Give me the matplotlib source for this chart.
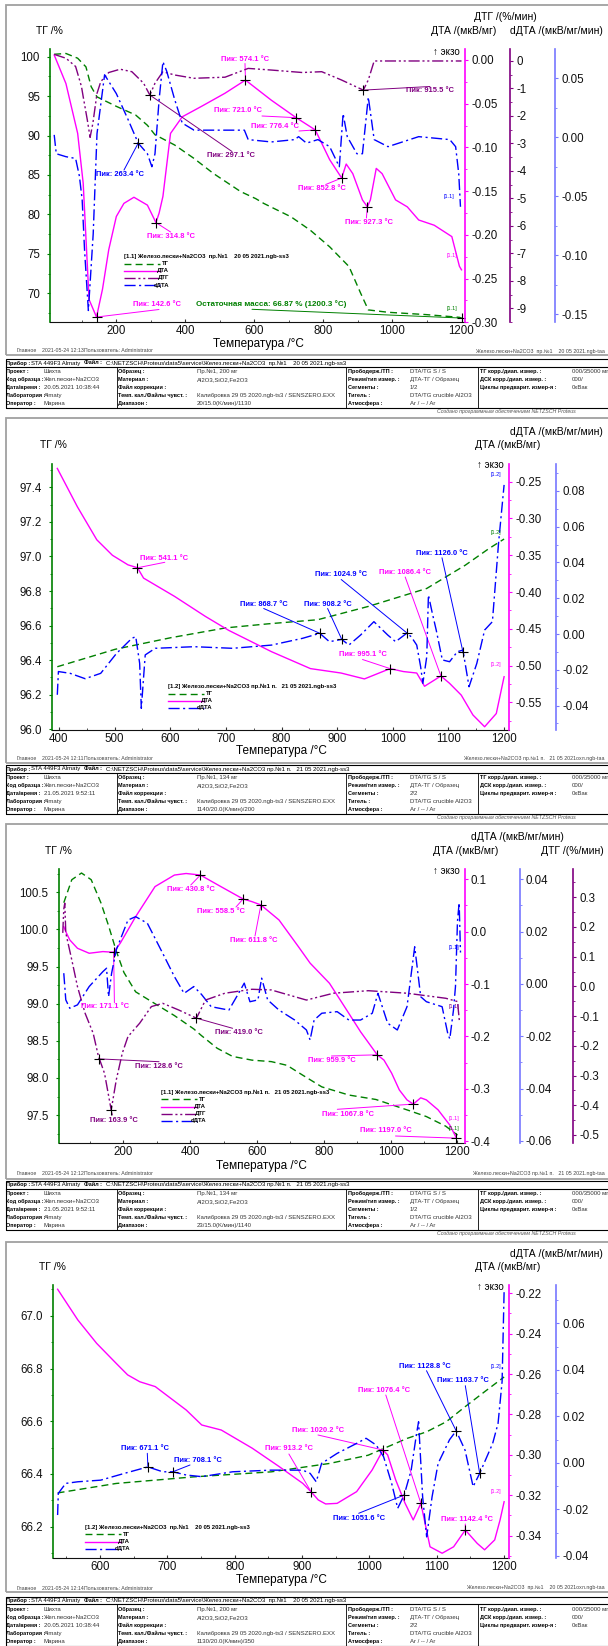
import matplotlib
matplotlib.use("Agg")
import matplotlib.pyplot as plt
from matplotlib.lines import Line2D
from matplotlib.patches import Rectangle
from matplotlib.ticker import AutoMinorLocator

plt.rcParams['font.family'] = ['Liberation Sans', 'DejaVu Sans']
plt.rcParams['axes.unicode_minus'] = False

W, H = 608, 1646
GREEN, MAG, PURP, BLUE = '#008000', '#ff00ff', '#800080', '#0000ff'
BLUE_AX = '#7777ff'
COL = {'tg': GREEN, 'dta': MAG, 'dtg': PURP, 'ddta': BLUE}
LS = {'tg': (0, (5, 3)), 'dta': '-', 'dtg': (0, (8, 2, 1.5, 2, 1.5, 2)),
      'ddta': (0, (8, 2.5, 1.5, 2.5))}
NAMES = {'tg': 'ТГ', 'dta': 'ДТА', 'dtg': 'ДТГ', 'ddta': 'dДТА'}
TICK_FS = 8.3

# ---------------- panel 1 : 20 05 2021, heating ----------------
p1_tg_t = [20, 54, 88, 112, 127, 144, 200, 256, 290, 312, 369, 425, 481, 560, 604, 627,
           706, 762, 818, 874, 908, 930, 987, 1099, 1194, 1200]
p1_tg = [100.3, 100.4, 99.8, 98.7, 96.2, 94.9, 93.7, 92.6, 91.3, 90.1, 88.8, 87.1, 85.2,
         82.9, 82.0, 81.4, 79.7, 78.0, 75.9, 73.4, 70.0, 67.9, 67.6, 67.3, 66.96, 66.87]
p1_dta_t = [20, 54, 88, 104, 121, 142.6, 160, 178, 200, 222, 251, 290, 314.8, 324, 335, 357,
            391, 447, 515, 574.1, 649, 721.0, 776.4, 818, 852.8, 866, 885, 913, 927.3, 936,
            953, 970, 1009, 1043, 1076, 1121, 1172, 1194, 1200]
p1_dta = [0.0057, -0.027, -0.084, -0.141, -0.274, -0.294, -0.262, -0.217, -0.179, -0.164,
          -0.157, -0.166, -0.186, -0.175, -0.156, -0.084, -0.065, -0.053, -0.038, -0.023,
          -0.046, -0.066, -0.080, -0.114, -0.135, -0.119, -0.130, -0.160, -0.168, -0.160,
          -0.124, -0.130, -0.160, -0.168, -0.183, -0.189, -0.202, -0.236, -0.240]
p1_dtg_t = [20, 54, 82, 99, 104, 116, 124, 132, 144, 155, 178, 211, 245, 279, 297.1, 312,
            335, 369, 425, 515, 582, 649, 739, 795, 852, 915.5, 930, 947, 1000, 1100, 1200]
p1_dtg = [0.24, 0.1, -0.2, -0.93, -1.3, -2.15, -2.78, -2.27, -1.18, -0.75, -0.42, -0.30,
          -0.39, -0.81, -1.24, -0.81, -0.39, -0.51, -0.63, -0.59, -0.27, -0.33, -0.42,
          -0.39, -0.69, -1.06, -0.69, 0.0, 0.0, 0.0, 0.0]
p1_ddta_t = [20, 26, 54, 82, 93, 101, 108, 119, 133, 144, 166, 200, 234, 263.4, 290, 303,
             312, 324, 335, 346, 369, 391, 425, 481, 571, 582, 649, 717, 728, 751, 784, 818,
             846, 857, 869, 897, 913, 930, 947, 987, 1076, 1166, 1183, 1192, 1197]
p1_ddta = [0.002, -0.014, -0.0165, -0.018, -0.033, -0.053, -0.096, -0.147, -0.082, 0.003,
           0.053, 0.037, 0.015, -0.005, -0.014, -0.025, -0.014, 0.032, 0.064, 0.056, 0.032,
           0.012, 0.006, 0.006, 0.006, -0.002, -0.004, -0.002, 0.0005, -0.005, -0.002,
           -0.008, -0.025, 0.020, 0.0005, -0.014, -0.014, 0.034, -0.002, -0.008, 0.0005,
           -0.002, -0.008, -0.031, -0.059]

# ---------------- panel 2 : 21 05 2021, cooling ----------------
p2_tg_t = [397, 501, 601, 700, 775, 865, 956, 1061, 1130, 1172, 1200]
p2_tg = [96.362, 96.463, 96.530, 96.587, 96.61, 96.634, 96.711, 96.815, 96.949, 97.044, 97.101]
p2_dta_t = [397, 433, 468, 496, 524, 541.1, 552, 608, 663, 705, 782, 852, 907, 949, 995.1,
            1019, 1043, 1057, 1086.4, 1102, 1123, 1144, 1165, 1186, 1200]
p2_dta = [-0.232, -0.284, -0.329, -0.350, -0.363, -0.367, -0.381, -0.406, -0.433, -0.452,
          -0.481, -0.504, -0.510, -0.518, -0.504, -0.508, -0.510, -0.528, -0.514, -0.524,
          -0.540, -0.567, -0.583, -0.565, -0.515]
p2_ddta_t = [397, 399, 420, 447, 475, 503, 531, 538, 545, 548, 555, 573, 643, 712, 782, 838,
             868.7, 886, 908.2, 921, 942, 966, 991, 1005, 1024.9, 1033, 1043, 1050, 1054,
             1061, 1064, 1071, 1078, 1089, 1102, 1116, 1126.0, 1137, 1151, 1165, 1179, 1190,
             1200]
p2_ddta = [-0.034, -0.021, -0.022, -0.025, -0.022, -0.011, -0.0024, -0.0015, -0.0164,
           -0.0416, -0.0117, -0.008, -0.0071, -0.008, -0.0062, -0.0024, 0.0004, -0.0043,
           -0.003, -0.0062, -0.0006, 0.0069, -0.0006, -0.0043, 0.0004, -0.0015, -0.0062,
           -0.0183, -0.0276, -0.0127, 0.0218, 0.0116, 0.0022, -0.0145, -0.0155, -0.0099,
           -0.0090, -0.0295, -0.0164, 0.0022, 0.0069, 0.0507, 0.0834]

# ---------------- panel 3 : 21 05 2021, heating ----------------
p3_tg_t = [22, 46, 75, 104, 133, 156, 179, 202, 237, 295, 353, 411, 434, 481, 527, 585, 643,
           690, 736, 794, 875, 956, 1049, 1107, 1165, 1200]
p3_tg = [100.36, 100.67, 100.76, 100.67, 100.36, 100.05, 99.71, 99.42, 99.16, 99.0, 98.84,
         98.66, 98.57, 98.40, 98.29, 98.24, 98.22, 98.17, 98.04, 97.88, 97.77, 97.71, 97.57,
         97.48, 97.35, 97.23]
p3_dta_t = [22, 28, 40, 63, 98, 139, 171.1, 191, 237, 295, 353, 388, 430.8, 492, 558.5, 585,
            611.8, 666, 724, 759, 817, 875, 910, 959.9, 980, 1003, 1026, 1049, 1067.8, 1090,
            1107, 1142, 1177, 1197.0]
p3_dta = [0.0095, 0.0, -0.0158, -0.0317, -0.0412, -0.038, -0.0393, -0.022, 0.0286, 0.086,
          0.108, 0.111, 0.108, 0.086, 0.0624, 0.0573, 0.051, 0.0223, -0.0286, -0.060,
          -0.0985, -0.156, -0.191, -0.235, -0.245, -0.270, -0.302, -0.321, -0.329, -0.317,
          -0.321, -0.340, -0.369, -0.394]
p3_dtg_t = [19, 22, 25, 28, 46, 63, 86, 110, 127, 128.6, 144, 163.9, 179, 197, 214, 249, 284,
            318, 365, 419.0, 446, 504, 585, 643, 748, 829, 933, 1049, 1165, 1200, 1206]
p3_dtg = [0.18, 0.26, 0.28, 0.18, 0.089, -0.001, -0.091, -0.158, -0.242, -0.244, -0.293,
          -0.416, -0.315, -0.225, -0.169, -0.124, -0.068, -0.057, -0.079, -0.107, -0.046,
          -0.023, -0.0097, -0.012, -0.046, -0.023, -0.0145, -0.023, -0.040, -0.051, -0.12]
p3_ddta_t = [22, 28, 40, 63, 98, 139, 150, 156, 165, 179, 214, 237, 272, 318, 353, 382, 411,
             434, 463, 516, 545, 562, 579, 603, 614, 632, 666, 713, 748, 759, 771, 794, 840,
             875, 910, 945, 962, 991, 1020, 1049, 1072, 1090, 1107, 1154, 1171, 1177, 1188,
             1194, 1200, 1205, 1209]
p3_ddta = [0.0041, -0.0061, -0.0093, -0.008, -0.001, 0.0047, 0.006, -0.0049, 0.004, 0.013,
           0.0244, 0.0257, 0.0232, 0.0117, 0.0028, -0.0036, -0.001, -0.004, -0.0087, -0.010,
           -0.0036, 0.0003, -0.0068, -0.0061, 0.0022, -0.0061, -0.010, -0.0138, -0.0176,
           -0.0214, -0.0138, -0.0112, -0.0106, -0.0138, -0.0138, -0.0112, -0.0036, -0.015,
           -0.0176, -0.0087, 0.0142, -0.0049, -0.0068, -0.0087, -0.019, -0.021, -0.010,
           -0.001, 0.024, 0.031, 0.012]

# ---------------- panel 4 : 20 05 2021, cooling ----------------
p4_tg_t = [537, 624, 739, 854, 941, 998, 1056, 1085, 1114, 1142, 1171, 1200]
p4_tg = [66.328, 66.364, 66.389, 66.408, 66.440, 66.471, 66.535, 66.560, 66.598, 66.655,
         66.712, 66.768]
p4_dta_t = [537, 567, 595, 624, 641, 659, 682, 705, 728, 751, 780, 826, 866, 901, 913.2, 924,
            935, 952, 981, 1004, 1020.2, 1027, 1039, 1053, 1065, 1076.4, 1090, 1108, 1125,
            1142.4, 1160, 1171, 1186, 1194, 1200]
p4_dta = [-0.218, -0.2332, -0.2448, -0.2547, -0.2604, -0.2638, -0.2662, -0.272, -0.2778,
          -0.2852, -0.2877, -0.2967, -0.3058, -0.3141, -0.3182, -0.3223, -0.3243, -0.324,
          -0.3182, -0.3075, -0.2976, -0.30, -0.3124, -0.324, -0.3322, -0.324, -0.3455,
          -0.3487, -0.3455, -0.3372, -0.3438, -0.347, -0.3421, -0.3322, -0.3232]
p4_ddta_t = [537, 538, 549, 567, 601, 636, 671.1, 693, 708.1, 728, 751, 797, 854, 901, 912,
             921, 929, 952, 981, 995, 1010, 1021, 1033, 1042, 1051.6, 1062, 1070, 1073, 1079,
             1085, 1093, 1102, 1119, 1128.8, 1142, 1154, 1163.7, 1183, 1191, 1197, 1200]
p4_ddta = [-0.0224, -0.0131, -0.0088, -0.0081, -0.0074, -0.0045, -0.0017, -0.0038, -0.0038,
           -0.0052, -0.0059, -0.0038, -0.0031, -0.0031, -0.0045, -0.0081, -0.0002, 0.0041,
           0.0084, 0.0106, 0.0077, 0.0027, -0.0088, -0.0195, -0.0138, -0.0031, 0.0127, 0.0177,
           -0.0146, -0.0318, -0.0146, -0.0002, 0.010, 0.0138, 0.0055, -0.0102, -0.0045, 0.0084,
           0.017, 0.035, 0.074]

# ---------------- info tables ----------------
row_labels = [['Проект :', 'Код образца :', 'Дата/время :', 'Лаборатория :', 'Оператор :'],
              ['Образец :', 'Материал :', 'Файл коррекции :', 'Темп. кал./Файлы чувст. :', 'Диапазон :'],
              ['Прободерж./ТП :', 'Режим/тип измер. :', 'Сегменты :', 'Тигель :', 'Атмосфера :'],
              ['ТГ корр./диап. измер. :', 'ДСК корр./диап. измер. :', 'Циклы предварит. измер-я :', '', '']]
file_20 = r'C:\NETZSCH\Proteus\data5\service\Желез.пески+Na2CO3  пр.№1    20 05 2021.ngb-ss3'
file_21 = r'C:\NETZSCH\Proteus\data5\service\Желез.пески+Na2CO3 пр.№1 п.   21 05 2021.ngb-ss3'
sample = ['Пр.№1, 200 мг', 'Пр.№1, 134 мг', 'Пр.№1, 134 мг', 'Пр.№1, 200 мг']
dates = ['20.05.2021 10:38:44', '21.05.2021 9:52:11', '21.05.2021 9:52:11', '20.05.2021 10:38:44']
segments = ['1/2', '2/2', '1/2', '2/2']
ranges = ['20/15.0(K/мин)/1130', '1140/20.0(K/мин)/200', '23/15.0(K/мин)/1140', '1130/20.0(K/мин)/350']
files = [file_20, file_21, file_21, file_20]
printed = ['2021-05-24 12:13', '2021-05-24 12:11', '2021-05-24 12:12', '2021-05-24 12:14']
footer_right = ['Железо.пески+Na2CO3  пр.№1    20 05 2021.ngb-taa',
                'Железо.пески+Na2CO3 пр.№1 п.   21 05 2021охл.ngb-taa',
                'Железо.пески+Na2CO3 пр.№1 п.   21 05 2021.ngb-taa',
                'Железо.пески+Na2CO3  пр.№1    20 05 2021охл.ngb-taa']
legend_titles = ['[1.1] Железо.пески+Na2CO3  пр.№1    20 05 2021.ngb-ss3',
                 '[1.2] Железо.пески+Na2CO3 пр.№1 п.   21 05 2021.ngb-ss3',
                 '[1.1] Железо.пески+Na2CO3 пр.№1 п.   21 05 2021.ngb-ss3',
                 '[1.2] Железо.пески+Na2CO3  пр.№1    20 05 2021.ngb-ss3']

fig = plt.figure(figsize=(W / 100, H / 100), dpi=100)
fig.patch.set_facecolor('white')


def text(x, y, s, **kw):
    kw.setdefault('fontsize', 5)
    kw.setdefault('va', 'center')
    fig.text(x / W, 1 - y / H, s, **kw)


def hline(x0, x1, y, **kw):
    fig.add_artist(Line2D([x0 / W, x1 / W], [1 - y / H] * 2, **kw))


def vline(x, y0, y1, **kw):
    fig.add_artist(Line2D([x / W] * 2, [1 - y0 / H, 1 - y1 / H], **kw))


def base_axes(box, xlim, xticks, lim, ticks, fmt):
    l, t, r, b = box
    ax = fig.add_axes([l / W, 1 - b / H, (r - l) / W, (b - t) / H])
    ax.set_xlim(xlim)
    ax.set_ylim(lim)
    ax.patch.set_alpha(0)
    for s in ('top', 'right'):
        ax.spines[s].set_visible(False)
    ax.spines['left'].set_color(GREEN)
    ax.spines['left'].set_linewidth(1.2)
    ax.spines['bottom'].set_color('#111111')
    ax.spines['bottom'].set_linewidth(0.8)
    ax.set_xticks(xticks)
    ax.set_yticks(ticks)
    ax.set_yticklabels([fmt.format(v) for v in ticks])
    ax.xaxis.set_minor_locator(AutoMinorLocator(2))
    ax.yaxis.set_minor_locator(AutoMinorLocator(2))
    ax.tick_params(axis='x', which='both', direction='in', colors='#333333',
                   labelcolor='#111111', labelsize=TICK_FS, pad=2)
    ax.tick_params(axis='y', which='both', direction='out', colors=GREEN,
                   labelcolor='#111111', labelsize=TICK_FS, pad=5)
    ax.tick_params(which='major', length=2.5)
    ax.tick_params(which='minor', length=1.5)
    return ax


def side_axes(ax, pos, color, lim, ticks, fmt):
    t = ax.twinx()
    t.set_ylim(lim)
    for s in ('top', 'left', 'bottom'):
        t.spines[s].set_visible(False)
    t.spines['right'].set_position(('axes', pos))
    t.spines['right'].set_color(color)
    t.spines['right'].set_linewidth(1.2)
    t.set_yticks(ticks)
    t.set_yticklabels([fmt.format(v) for v in ticks])
    t.yaxis.set_minor_locator(AutoMinorLocator(2))
    t.tick_params(axis='y', which='both', direction='out', colors=color,
                  labelcolor='#111111', labelsize=TICK_FS, pad=2)
    t.tick_params(which='major', length=2.5)
    t.tick_params(which='minor', length=1.5)
    return t


def curve(a, key, t, v):
    a.plot(t, v, color=COL[key], ls=LS[key], lw=1.0)


def peak(a, T, v, label, color, txt, anchor):
    a.plot([T], [v], marker='+', color='k', ms=7, mew=0.8, zorder=6)
    a.annotate('', xy=(T, v), xytext=(anchor[0], H - anchor[1]), textcoords='figure pixels',
               arrowprops=dict(arrowstyle='-', color=color, lw=0.7, shrinkA=0, shrinkB=0))
    text(txt[0], txt[1], label, color=color, fontsize=5.4, fontweight='bold', ha='center')


def legend(x0, y0, title, keys):
    text(x0, y0, title, fontsize=4.3, fontweight='bold', ha='left')
    for i, k in enumerate(keys):
        y = y0 + 7.1 * (i + 1)
        hline(x0, x0 + 36, y, color=COL[k], ls=LS[k], lw=1.0)
        text(x0 + 45, y, NAMES[k], fontsize=4.3, fontweight='bold', ha='right')


def frame(top, bottom):
    fig.add_artist(Rectangle((5.8 / W, 1 - bottom / H), 1.0, (bottom - top) / H, fill=False,
                             ec='#a0a0a0', lw=1.3, transform=fig.transFigure))


def footer(i, y):
    text(16.5, y, 'Главное', fontsize=3.8, color='#444444')
    text(41.7, y, printed[i], fontsize=3.8, color='#444444')
    text(84, y, 'Пользователь: Administrator', fontsize=3.8, color='#444444')
    text(605, y, footer_right[i], fontsize=3.8, color='#444444', ha='right')


def table(i, t, credit=True):
    b = t + 49
    fig.add_artist(Rectangle((5.8 / W, 1 - b / H), 1.0, 49 / H, fill=False, ec='k', lw=0.8,
                             transform=fig.transFigure))
    hline(5.8, 608, t + 7.8, color='k', lw=0.8)
    for x in (116.7, 346, 478):
        vline(x, t + 7.8, b, color='k', lw=0.6)
    fl, fv = 4.0, 4.3
    text(6.5, t + 4, 'Прибор :', fontsize=fl, fontweight='bold')
    text(31, t + 4, 'STA 449F3 Almaty', fontsize=fv)
    text(84, t + 4, 'Файл :', fontsize=fl, fontweight='bold')
    text(106, t + 4, files[i], fontsize=fv)
    values = [['Шихта', 'Жел.пески+Na2CO3', dates[i], 'Almaty', 'Марина'],
              [sample[i], 'Al2O3,SiO2,Fe2O3', '', 'Калибровка 29 05 2020.ngb-ts3 / SENSZERO.EXX', ranges[i]],
              ['DTA/TG S / S', 'ДТА-ТГ / Образец', segments[i], 'DTA/TG crucible Al2O3', 'Ar / -- / Ar'],
              ['000/35000 мг', '000/', '0xВак', '', '']]
    lab_x = [6.5, 118.5, 348, 480]
    val_x = [44, 197, 410, 572]
    for c in range(4):
        for r in range(5):
            y = t + 12.8 + 8.0 * r
            text(lab_x[c], y, row_labels[c][r], fontsize=fl, fontweight='bold')
            text(val_x[c], y, values[c][r], fontsize=fv, color='#333333')
    if credit:
        text(437, b + 3.5, 'Создано программным обеспечением NETZSCH Proteus', fontsize=3.8,
             style='italic', color='#555555')


# =============== panel 1 ===============
frame(5, 355)
ax = base_axes((50.4, 49.3, 465.3, 322.3), (9, 1211), [200, 400, 600, 800, 1000, 1200],
               (66.33, 100.93), [70, 75, 80, 85, 90, 95, 100], '{:.0f}')
a_dta = side_axes(ax, 1.0, MAG, (-0.300, 0.0122), [0.0, -0.05, -0.10, -0.15, -0.20, -0.25, -0.30], '{:.2f}')
a_dtg = side_axes(ax, 1.1075, PURP, (-9.51, 0.425), list(range(0, -10, -1)), '{:.0f}')
a_dd = side_axes(ax, 1.2169, BLUE_AX, (-0.157, 0.0746), [0.05, 0.0, -0.05, -0.10, -0.15], '{:.2f}')
curve(ax, 'tg', p1_tg_t, p1_tg)
curve(a_dta, 'dta', p1_dta_t, p1_dta)
curve(a_dtg, 'dtg', p1_dtg_t, p1_dtg)
curve(a_dd, 'ddta', p1_ddta_t, p1_ddta)
peak(a_dta, 574.1, -0.023, 'Пик: 574.1 °C', MAG, (245, 59.3), (245, 63.5))
peak(a_dta, 721.0, -0.066, 'Пик: 721.0 °C', MAG, (237.7, 111), (262, 116))
peak(a_dta, 776.4, -0.080, 'Пик: 776.4 °C', MAG, (275.3, 126.7), (299, 131))
peak(a_dtg, 915.5, -1.06, 'Пик: 915.5 °C', PURP, (430.4, 90.7), (430, 86.5))
peak(a_dtg, 297.1, -1.24, 'Пик: 297.1 °C', PURP, (230.7, 155.7), (232, 151.5))
peak(a_dd, 263.4, -0.005, 'Пик: 263.4 °C', BLUE, (120.2, 174), (124, 170))
peak(a_dta, 852.8, -0.135, 'Пик: 852.8 °C', MAG, (321.8, 188.3), (325.7, 184.5))
peak(a_dta, 314.8, -0.186, 'Пик: 314.8 °C', MAG, (170.6, 236.7), (170.6, 232))
peak(a_dta, 927.3, -0.168, 'Пик: 927.3 °C', MAG, (369, 222.3), (366.4, 218))
peak(a_dta, 142.6, -0.294, 'Пик: 142.6 °C', MAG, (157, 305), (159, 309.5))
ax.plot([1200.3], [66.87], marker='+', color='k', ms=7, mew=0.8, zorder=6)
ax.annotate('', xy=(1200.3, 66.87), xytext=(252, H - 309.3), textcoords='figure pixels',
            arrowprops=dict(arrowstyle='-', color=GREEN, lw=0.7, shrinkA=0, shrinkB=0))
text(271.4, 304.3, 'Остаточная масса: 66.87 % (1200.3 °C)', color=GREEN, fontsize=5.8,
     fontweight='bold', ha='center')
text(449, 196.7, '[1.1]', fontsize=4, color=BLUE, ha='center')
text(451.7, 256, '[1.1]', fontsize=4, color=MAG, ha='center')
text(451.7, 308.3, '[1.1]', fontsize=4, color=GREEN, ha='center')
text(459.5, 51.7, '↑ экзо', fontsize=7, ha='right')
text(49.5, 31, 'ТГ /%', fontsize=7.5, ha='center')
text(505, 16.7, 'ДТГ /(%/мин)', fontsize=7.5, ha='center')
text(464, 31, 'ДТА /(мкВ/мг)', fontsize=7.5, ha='center')
text(556, 31, 'dДТА /(мкВ/мг/мин)', fontsize=7.5, ha='center')
text(258, 344, 'Температура /°C', fontsize=8.5, ha='center')
legend(124, 256.7, legend_titles[0], ['tg', 'dta', 'dtg', 'ddta'])
footer(0, 351)
table(0, 359)

# =============== panel 2 ===============
frame(418, 763)
ax = base_axes((52.3, 464, 509.1, 730), (388, 1209), list(range(400, 1201, 100)),
               (95.996, 97.535), [96.0, 96.2, 96.4, 96.6, 96.8, 97.0, 97.2, 97.4], '{:.1f}')
a_dta = side_axes(ax, 1.0, MAG, (-0.5874, -0.226), [-0.25, -0.30, -0.35, -0.40, -0.45, -0.50, -0.55], '{:.2f}')
a_dd = side_axes(ax, 1.1035, BLUE_AX, (-0.0537, 0.0951), [0.08, 0.06, 0.04, 0.02, 0.0, -0.02, -0.04], '{:.2f}')
curve(ax, 'tg', p2_tg_t, p2_tg)
curve(a_dta, 'dta', p2_dta_t, p2_dta)
curve(a_dd, 'ddta', p2_ddta_t, p2_ddta)
peak(a_dta, 541.1, -0.367, 'Пик: 541.1 °C', MAG, (163.7, 558.3), (164.8, 562.3))
peak(a_dd, 868.7, 0.0004, 'Пик: 868.7 °C', BLUE, (263.7, 604), (263.7, 608.5))
peak(a_dd, 908.2, -0.003, 'Пик: 908.2 °C', BLUE, (327.6, 604), (327.6, 608.5))
peak(a_dd, 1024.9, 0.0007, 'Пик: 1024.9 °C', BLUE, (341.2, 575), (341.2, 579.5))
peak(a_dta, 1086.4, -0.514, 'Пик: 1086.4 °C', MAG, (405.2, 572.7), (405.2, 577))
peak(a_dd, 1126.0, -0.0099, 'Пик: 1126.0 °C', BLUE, (442, 553.3), (442, 557.8))
peak(a_dta, 995.1, -0.504, 'Пик: 995.1 °C', MAG, (362.5, 655), (362.5, 659.5))
text(496.3, 474.3, '[1.2]', fontsize=4, color=BLUE, ha='center')
text(496.3, 532.7, '[1.2]', fontsize=4, color=GREEN, ha='center')
text(496.3, 665, '[1.2]', fontsize=4, color=MAG, ha='center')
text(503.3, 465, '↑ экзо', fontsize=7, ha='right')
text(53, 445, 'ТГ /%', fontsize=7.5, ha='center')
text(508, 445, 'ДТА /(мкВ/мг)', fontsize=7.5, ha='center')
text(556, 432, 'dДТА /(мкВ/мг/мин)', fontsize=7.5, ha='center')
text(281, 751, 'Температура /°C', fontsize=8.5, ha='center')
legend(167.5, 686.7, legend_titles[1], ['tg', 'dta', 'ddta'])
footer(1, 758.8)
table(1, 765)

# =============== panel 3 ===============
frame(824, 1178.5)
ax = base_axes((58.9, 869.3, 464.5, 1143.3), (7.4, 1221), [200, 400, 600, 800, 1000, 1200],
               (97.12, 100.81), [97.5, 98.0, 98.5, 99.0, 99.5, 100.0, 100.5], '{:.1f}')
a_dta = side_axes(ax, 1.0, MAG, (-0.4038, 0.119), [0.1, 0.0, -0.1, -0.2, -0.3, -0.4], '{:.1f}')
a_dd = side_axes(ax, 1.136, BLUE_AX, (-0.0609, 0.0438), [0.04, 0.02, 0.0, -0.02, -0.04, -0.06], '{:.2f}')
a_dtg = side_axes(ax, 1.268, PURP, (-0.528, 0.394), [0.3, 0.2, 0.1, 0.0, -0.1, -0.2, -0.3, -0.4, -0.5], '{:.1f}')
curve(ax, 'tg', p3_tg_t, p3_tg)
curve(a_dta, 'dta', p3_dta_t, p3_dta)
curve(a_dtg, 'dtg', p3_dtg_t, p3_dtg)
curve(a_dd, 'ddta', p3_ddta_t, p3_ddta)
peak(a_dta, 430.8, 0.108, 'Пик: 430.8 °C', MAG, (190.8, 889.3), (190.8, 885))
peak(a_dta, 558.5, 0.0624, 'Пик: 558.5 °C', MAG, (221, 911.7), (236, 907))
peak(a_dta, 611.8, 0.051, 'Пик: 611.8 °C', MAG, (254, 941), (255, 936))
peak(a_dta, 171.1, -0.0393, 'Пик: 171.1 °C', MAG, (104.7, 1006.7), (114.4, 1002.7))
peak(a_dtg, 419.0, -0.107, 'Пик: 419.0 °C', PURP, (238.5, 1032.7), (232.6, 1028.3))
peak(a_dtg, 128.6, -0.244, 'Пик: 128.6 °C', PURP, (159, 1066.7), (159, 1061.7))
peak(a_dtg, 163.9, -0.416, 'Пик: 163.9 °C', PURP, (114.4, 1120), (112.4, 1115))
peak(a_dta, 959.9, -0.235, 'Пик: 959.9 °C', MAG, (331.5, 1061), (331.5, 1056))
peak(a_dta, 1067.8, -0.329, 'Пик: 1067.8 °C', MAG, (347.8, 1114), (337.3, 1109.3))
peak(a_dta, 1197.0, -0.394, 'Пик: 1197.0 °C', MAG, (385.8, 1131), (395.5, 1136))
text(453.7, 947.3, '[1.1]', fontsize=4, color=BLUE, ha='center')
text(453.7, 1006.7, '[1.1]', fontsize=4, color=PURP, ha='center')
text(453.7, 1118.3, '[1.1]', fontsize=4, color=MAG, ha='center')
text(453.7, 1128.3, '[1.1]', fontsize=4, color=GREEN, ha='center')
text(459.5, 870.7, '↑ экзо', fontsize=7, ha='right')
text(58, 850.7, 'ТГ /%', fontsize=7.5, ha='center')
text(517.6, 836.7, 'dДТА /(мкВ/мг/мин)', fontsize=7.5, ha='center')
text(465.3, 850.7, 'ДТА /(мкВ/мг)', fontsize=7.5, ha='center')
text(572, 850.7, 'ДТГ /(%/мин)', fontsize=7.5, ha='center')
text(261.7, 1165.5, 'Температура /°C', fontsize=8.5, ha='center')
legend(161, 1092.3, legend_titles[2], ['tg', 'dta', 'dtg', 'ddta'])
footer(2, 1173.5)
table(2, 1180.7)

# =============== panel 4 ===============
frame(1241.7, 1591.7)
ax = base_axes((53.1, 1285, 509.1, 1558.3), (530.3, 1207.4), list(range(600, 1201, 100)),
               (66.08, 67.117), [66.2, 66.4, 66.6, 66.8, 67.0], '{:.1f}')
a_dta = side_axes(ax, 1.0, MAG, (-0.3512, -0.2159), [-0.22, -0.24, -0.26, -0.28, -0.30, -0.32, -0.34], '{:.2f}')
a_dd = side_axes(ax, 1.1037, BLUE_AX, (-0.041, 0.0765), [0.06, 0.04, 0.02, 0.0, -0.02, -0.04], '{:.2f}')
curve(ax, 'tg', p4_tg_t, p4_tg)
curve(a_dta, 'dta', p4_dta_t, p4_dta)
curve(a_dd, 'ddta', p4_ddta_t, p4_ddta)
peak(a_dd, 671.1, -0.0017, 'Пик: 671.1 °C', BLUE, (145.4, 1449), (147.3, 1453.3))
peak(a_dd, 708.1, -0.0038, 'Пик: 708.1 °C', BLUE, (197.8, 1460.7), (190, 1465))
peak(a_dta, 913.2, -0.3182, 'Пик: 913.2 °C', MAG, (288.9, 1449), (288.9, 1454))
peak(a_dta, 1020.2, -0.2976, 'Пик: 1020.2 °C', MAG, (318, 1430), (318, 1435))
peak(a_dta, 1076.4, -0.324, 'Пик: 1076.4 °C', MAG, (383.9, 1390), (385.8, 1395))
peak(a_dd, 1128.8, 0.0138, 'Пик: 1128.8 °C', BLUE, (424.6, 1366), (426.5, 1370.7))
peak(a_dd, 1163.7, -0.0045, 'Пик: 1163.7 °C', BLUE, (463.4, 1381), (465.3, 1385.7))
peak(a_dd, 1051.6, -0.0138, 'Пик: 1051.6 °C', BLUE, (358.7, 1518.3), (358.7, 1513.3))
peak(a_dta, 1142.4, -0.3372, 'Пик: 1142.4 °C', MAG, (467.2, 1519.3), (465.3, 1524))
text(496.3, 1366.7, '[1.2]', fontsize=4, color=BLUE, ha='center')
text(496.3, 1491, '[1.2]', fontsize=4, color=MAG, ha='center')
text(503.3, 1286.7, '↑ экзо', fontsize=7, ha='right')
text(52.3, 1266.7, 'ТГ /%', fontsize=7.5, ha='center')
text(508, 1266.7, 'ДТА /(мкВ/мг)', fontsize=7.5, ha='center')
text(556, 1254, 'dДТА /(мкВ/мг/мин)', fontsize=7.5, ha='center')
text(281, 1580.5, 'Температура /°C', fontsize=8.5, ha='center')
legend(85.3, 1527.3, legend_titles[3], ['tg', 'dta', 'ddta'])
footer(3, 1588)
table(3, 1596.5, credit=False)

fig.savefig('out.png', dpi=100, facecolor='white')
